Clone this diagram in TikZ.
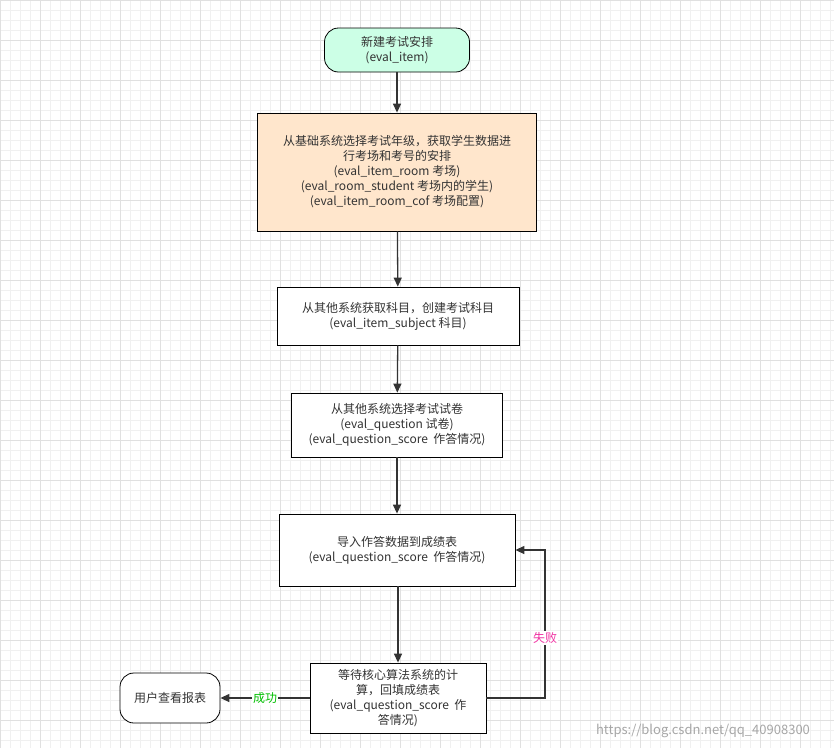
\documentclass[tikz,border=0pt]{standalone}
\usepackage{fontspec}
\setmainfont{Noto Sans CJK SC}
\usetikzlibrary{arrows.meta}
\definecolor{mint}{HTML}{CCFFE6}
\definecolor{peach}{HTML}{FFE6CC}
\definecolor{edge}{HTML}{333333}
\begin{document}
\begin{tikzpicture}[x=1pt,y=-1pt,font=\fontsize{12}{15}\selectfont]
\tikzstyle{box}=[draw=black,thick,fill=white,align=center,text=edge]
\tikzstyle{term}=[box,rounded corners=14pt]
\tikzstyle{ar}=[draw=edge,line width=1.3pt,-{Triangle[length=9pt,width=8pt]}]
\useasboundingbox (0,0) rectangle (834,748);
\fill[white] (0,0) rectangle (834,748);
% background grid
\foreach \i in {0,10,...,830} \draw[black!6] (\i,0) -- (\i,748);
\foreach \j in {0,10,...,740} \draw[black!6] (0,\j) -- (834,\j);
\foreach \i in {0,40,...,830} \draw[black!12] (\i,0) -- (\i,748);
\foreach \j in {0,40,...,740} \draw[black!12] (0,\j) -- (834,\j);
\node [term,fill=mint,minimum width=145pt,minimum height=44pt] (start) at (397,50) {新建考试安排\\(eval\_item)};
\node [box,fill=peach,minimum width=279pt,minimum height=118pt] (room) at (397,172) {从基础系统选择考试年级，获取学生数据进\\行考场和考号的安排\\(eval\_item\_room 考场)\\(eval\_room\_student 考场内的学生)\\(eval\_item\_room\_cof 考场配置)};
\node [box,minimum width=242pt,minimum height=58pt] (subj) at (398,316) {从其他系统获取科目，创建考试科目\\(eval\_item\_subject 科目)};
\node [box,minimum width=211pt,minimum height=64pt] (paper) at (397,425) {从其他系统选择考试试卷\\(eval\_question 试卷)\\(eval\_question\_score\ \ 作答情况)};
\node [box,minimum width=236pt,minimum height=72pt] (imp) at (397,550) {导入作答数据到成绩表\\(eval\_question\_score\ \ 作答情况)};
\node [box,minimum width=176pt,minimum height=70pt] (calc) at (398,698) {等待核心算法系统的计\\算，回填成绩表\\(eval\_question\_score\ \ 作\\答情况)};
\node [term,minimum width=100pt,minimum height=50pt] (user) at (170,698) {用户查看报表};
\coordinate (c1) at (545,698);
\coordinate (c2) at (545,550);
\draw [ar] (start) -- (room);
\draw [ar] (room) -- (subj);
\draw [ar] (subj) -- (paper);
\draw [ar] (paper) -- (imp);
\draw [ar] (imp.south -| calc) -- (calc);
\draw [ar] (calc) -- (user) node [midway,fill=white,inner sep=1pt,text=green!75!black] {成功};
\draw [ar] (calc.east) -- (c1) -- (c2) -- (imp.east);
\node [fill=white,inner sep=1pt,text=magenta!80] (fail) at (545,638) {失败};
\node [text=black!35,font=\fontsize{13}{15}\selectfont] (mark) at (703,731) {https://blog.csdn.net/qq\_40908300};
\end{tikzpicture}
\end{document}
